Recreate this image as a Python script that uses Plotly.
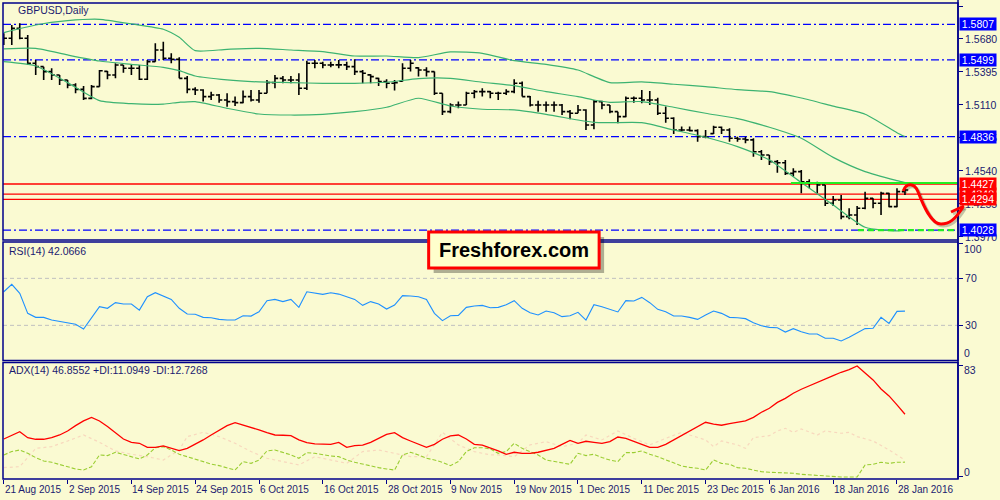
import plotly.graph_objects as go

# ---------------- data ----------------
date_labels = ["21 Aug 2015", "2 Sep 2015", "14 Sep 2015", "24 Sep 2015", "6 Oct 2015",
               "16 Oct 2015", "28 Oct 2015", "9 Nov 2015", "19 Nov 2015", "1 Dec 2015",
               "11 Dec 2015", "23 Dec 2015", "6 Jan 2016", "18 Jan 2016", "28 Jan 2016"]
label_step = 8  # one date label every 8 daily bars

opens = [1.5660, 1.5686, 1.5772, 1.5686, 1.5470, 1.5441, 1.5398, 1.5369, 1.5326, 1.5283,
         1.5245, 1.5167, 1.5268, 1.5400, 1.5369, 1.5455, 1.5427, 1.5427, 1.5332, 1.5484,
         1.5585, 1.5513, 1.5504, 1.5340, 1.5245, 1.5239, 1.5182, 1.5196, 1.5153, 1.5139,
         1.5130, 1.5182, 1.5153, 1.5211, 1.5303, 1.5340, 1.5326, 1.5326, 1.5254, 1.5470,
         1.5470, 1.5455, 1.5456, 1.5456, 1.5441, 1.5398, 1.5370, 1.5340, 1.5312, 1.5297,
         1.5315, 1.5427, 1.5430, 1.5412, 1.5398, 1.5211, 1.5052, 1.5110, 1.5110, 1.5211,
         1.5225, 1.5225, 1.5211, 1.5211, 1.5225, 1.5297, 1.5182, 1.5110, 1.5110, 1.5110,
         1.5110, 1.5052, 1.5038, 1.5067, 1.4937, 1.5139, 1.5110, 1.5052, 1.5009, 1.5168,
         1.5168, 1.5153, 1.5153, 1.5038, 1.4995, 1.4894, 1.4894, 1.4888, 1.4836, 1.4862,
         1.4917, 1.4894, 1.4822, 1.4816, 1.4808, 1.4706, 1.4678, 1.4620, 1.4611, 1.4519,
         1.4534, 1.4447, 1.4433, 1.4418, 1.4260, 1.4289, 1.4145, 1.4159, 1.4217, 1.4303,
         1.4260, 1.4346, 1.4231, 1.4361]
highs = [1.5729, 1.5801, 1.5815, 1.5715, 1.5499, 1.5441, 1.5427, 1.5369, 1.5326, 1.5297,
         1.5274, 1.5283, 1.5412, 1.5404, 1.5470, 1.5455, 1.5464, 1.5455, 1.5499, 1.5643,
         1.5657, 1.5556, 1.5522, 1.5360, 1.5262, 1.5245, 1.5225, 1.5205, 1.5211, 1.5182,
         1.5234, 1.5239, 1.5239, 1.5326, 1.5369, 1.5360, 1.5360, 1.5383, 1.5493, 1.5499,
         1.5484, 1.5484, 1.5499, 1.5484, 1.5505, 1.5412, 1.5375, 1.5346, 1.5332, 1.5326,
         1.5470, 1.5499, 1.5435, 1.5435, 1.5398, 1.5211, 1.5124, 1.5139, 1.5225, 1.5240,
         1.5254, 1.5231, 1.5225, 1.5245, 1.5332, 1.5312, 1.5188, 1.5147, 1.5139, 1.5139,
         1.5119, 1.5067, 1.5110, 1.5073, 1.5153, 1.5147, 1.5110, 1.5052, 1.5182, 1.5182,
         1.5240, 1.5231, 1.5173, 1.5096, 1.5003, 1.4923, 1.4923, 1.4900, 1.4894, 1.4931,
         1.4923, 1.4908, 1.4836, 1.4836, 1.4822, 1.4721, 1.4678, 1.4634, 1.4634, 1.4562,
         1.4548, 1.4467, 1.4447, 1.4418, 1.4323, 1.4332, 1.4217, 1.4237, 1.4361, 1.4303,
         1.4361, 1.4352, 1.4390, 1.4390]
lows = [1.5628, 1.5628, 1.5677, 1.5455, 1.5369, 1.5326, 1.5326, 1.5283, 1.5254, 1.5211,
        1.5153, 1.5159, 1.5268, 1.5332, 1.5340, 1.5389, 1.5369, 1.5326, 1.5326, 1.5484,
        1.5499, 1.5470, 1.5340, 1.5211, 1.5196, 1.5139, 1.5153, 1.5130, 1.5095, 1.5101,
        1.5124, 1.5139, 1.5130, 1.5211, 1.5254, 1.5297, 1.5297, 1.5196, 1.5239, 1.5427,
        1.5427, 1.5435, 1.5427, 1.5412, 1.5369, 1.5297, 1.5297, 1.5274, 1.5254, 1.5234,
        1.5312, 1.5398, 1.5355, 1.5355, 1.5196, 1.5024, 1.5038, 1.5081, 1.5110, 1.5168,
        1.5182, 1.5168, 1.5153, 1.5196, 1.5211, 1.5182, 1.5096, 1.5052, 1.5052, 1.5052,
        1.5024, 1.4986, 1.5038, 1.4894, 1.4900, 1.5073, 1.5038, 1.4952, 1.5003, 1.5130,
        1.5124, 1.5110, 1.5024, 1.4957, 1.4859, 1.4880, 1.4880, 1.4793, 1.4822, 1.4859,
        1.4859, 1.4793, 1.4793, 1.4779, 1.4663, 1.4634, 1.4591, 1.4525, 1.4505, 1.4490,
        1.4346, 1.4390, 1.4346, 1.4237, 1.4237, 1.4122, 1.4122, 1.4073, 1.4208, 1.4217,
        1.4159, 1.4225, 1.4225, 1.4332]
closes = [1.5686, 1.5772, 1.5686, 1.5470, 1.5441, 1.5398, 1.5369, 1.5326, 1.5283, 1.5245,
          1.5167, 1.5268, 1.5406, 1.5369, 1.5455, 1.5427, 1.5427, 1.5332, 1.5484, 1.5585,
          1.5513, 1.5504, 1.5340, 1.5245, 1.5239, 1.5182, 1.5196, 1.5153, 1.5139, 1.5130,
          1.5182, 1.5153, 1.5211, 1.5303, 1.5340, 1.5326, 1.5326, 1.5254, 1.5470, 1.5470,
          1.5455, 1.5456, 1.5456, 1.5441, 1.5398, 1.5384, 1.5355, 1.5312, 1.5297, 1.5303,
          1.5427, 1.5470, 1.5412, 1.5398, 1.5211, 1.5052, 1.5110, 1.5110, 1.5211, 1.5225,
          1.5225, 1.5211, 1.5211, 1.5225, 1.5297, 1.5182, 1.5110, 1.5110, 1.5110, 1.5110,
          1.5052, 1.5038, 1.5067, 1.4937, 1.5139, 1.5110, 1.5052, 1.5009, 1.5168, 1.5168,
          1.5153, 1.5153, 1.5038, 1.4995, 1.4894, 1.4894, 1.4888, 1.4836, 1.4831, 1.4917,
          1.4894, 1.4822, 1.4816, 1.4808, 1.4706, 1.4678, 1.4620, 1.4611, 1.4519, 1.4534,
          1.4447, 1.4433, 1.4418, 1.4260, 1.4289, 1.4145, 1.4159, 1.4217, 1.4303, 1.4260,
          1.4346, 1.4231, 1.4361, 1.4375]

# Bollinger bands, read at a subset of bars
bb_idx = [0, 4, 8, 12, 16, 20, 22, 24, 28, 32, 36, 40, 44, 48, 52, 56, 60, 64, 68, 72,
          74, 76, 80, 84, 88, 92, 96, 100, 104, 108, 112, 113]
bb_upper = [1.5735, 1.5801, 1.5838, 1.5850, 1.5810, 1.5764, 1.5694, 1.5579, 1.5591, 1.5599,
            1.5585, 1.5571, 1.5533, 1.5533, 1.5519, 1.5568, 1.5556, 1.5493, 1.5461, 1.5412,
            1.5355, 1.5303, 1.5309, 1.5289, 1.5268, 1.5242, 1.5225, 1.5170, 1.5100, 1.5030,
            1.4870, 1.4836]
bb_middle = [1.5594, 1.5599, 1.5542, 1.5490, 1.5461, 1.5435, 1.5406, 1.5360, 1.5326, 1.5309,
             1.5303, 1.5297, 1.5297, 1.5306, 1.5338, 1.5340, 1.5306, 1.5277, 1.5225, 1.5182,
             1.5153, 1.5133, 1.5139, 1.5090, 1.5038, 1.4992, 1.4917, 1.4822, 1.4657, 1.4534,
             1.4456, 1.4439]
bb_lower = [1.5484, 1.5447, 1.5303, 1.5147, 1.5121, 1.5118, 1.5133, 1.5139, 1.5081, 1.5032,
            1.5023, 1.5029, 1.5052, 1.5090, 1.5168, 1.5101, 1.5073, 1.5067, 1.5029, 1.4980,
            1.4960, 1.4957, 1.4957, 1.4894, 1.4831, 1.4750, 1.4634, 1.4439, 1.4246, 1.4053,
            1.4021, 1.4030]

rsi_values = [58.6, 64.9, 57.2, 40.2, 36.8, 36.8, 34.5, 33.1, 31.7, 30.9,
              26.9, 36.0, 45.9, 44.5, 49.3, 48.2, 48.2, 43.0, 54.4, 57.8,
              55.0, 52.1, 44.5, 39.7, 39.4, 36.8, 36.5, 35.1, 34.5, 34.5,
              38.2, 37.9, 41.6, 51.0, 52.1, 50.2, 52.1, 45.3, 58.6, 57.2,
              56.4, 57.8, 56.6, 54.4, 52.1, 47.0, 50.2, 48.2, 43.9, 47.3,
              55.3, 55.0, 54.4, 52.1, 40.2, 34.0, 38.2, 38.5, 45.3, 46.5,
              47.0, 45.0, 45.3, 47.6, 51.0, 44.5, 40.8, 38.8, 42.2, 40.8,
              37.4, 38.2, 41.1, 34.5, 47.6, 45.9, 43.6, 41.4, 51.0, 50.7,
              53.8, 49.3, 43.6, 41.6, 37.9, 37.9, 36.8, 35.1, 38.8, 42.2,
              40.2, 36.8, 36.5, 35.7, 32.3, 29.7, 28.3, 28.0, 24.3, 27.2,
              24.6, 22.6, 22.6, 19.0, 19.0, 16.7, 19.8, 23.2, 27.2, 27.5,
              36.8, 31.7, 41.9, 42.1]

adx_values = [28.4, 31.4, 33.9, 29.4, 28.2, 28.2, 29.4, 31.4, 34.4, 38.4,
              41.9, 44.6, 41.9, 37.7, 32.7, 28.4, 25.9, 25.2, 22.2, 22.2,
              23.2, 21.4, 19.7, 21.4, 24.4, 27.7, 31.4, 34.9, 38.4, 40.6,
              38.9, 36.9, 35.2, 33.2, 31.4, 31.2, 30.9, 27.7, 25.7, 24.7,
              24.4, 24.4, 25.9, 22.2, 23.4, 23.9, 25.9, 28.9, 31.9, 33.2,
              29.4, 26.9, 24.4, 22.2, 24.4, 28.2, 30.7, 31.4, 28.4, 24.4,
              23.9, 21.9, 19.5, 17.0, 18.5, 17.7, 17.7, 18.5, 20.2, 21.4,
              24.4, 27.4, 25.2, 26.7, 25.9, 25.2, 26.4, 29.9, 28.9, 26.9,
              24.4, 22.2, 22.2, 24.4, 27.7, 30.7, 33.9, 37.7, 40.9, 39.6,
              38.7, 39.9, 40.9, 41.9, 44.6, 48.4, 51.4, 55.8, 58.8, 62.6,
              65.6, 68.3, 70.8, 73.1, 75.8, 78.3, 80.3, 83.0, 77.5, 72.6,
              65.8, 60.6, 53.9, 46.9]
plus_di = [16.5, 19.0, 20.2, 17.7, 14.5, 12.0, 11.0, 9.5, 7.7, 6.0,
           5.2, 7.7, 16.5, 16.0, 18.5, 17.0, 15.2, 13.5, 16.5, 21.9,
           22.7, 20.2, 17.0, 15.2, 13.2, 11.5, 9.7, 8.5, 7.0, 5.2,
           11.5, 10.2, 12.7, 19.5, 20.2, 18.5, 16.5, 14.0, 18.2, 17.7,
           16.5, 15.7, 15.2, 12.7, 11.0, 9.5, 8.2, 7.0, 6.0, 5.2,
           16.5, 18.5, 16.5, 14.0, 12.7, 11.0, 8.5, 11.5, 19.0, 21.9,
           21.9, 21.0, 17.7, 19.0, 25.2, 21.4, 19.0, 16.5, 12.7, 11.5,
           10.2, 9.5, 17.7, 16.0, 17.0, 14.5, 12.7, 11.5, 18.2, 18.2,
           19.5, 17.0, 15.2, 12.7, 10.2, 8.2, 7.2, 6.5, 5.2, 12.7,
           10.2, 9.5, 7.0, 6.5, 5.2, 4.0, 3.5, 3.3, 2.8, 2.8,
           2.0, 1.5, 1.0, 0.8, 0.3, 0.0, 0.0, 0.0, 9.0, 9.5,
           11.0, 10.2, 11.0, 11.1]
minus_di_idx = [0, 2, 4, 6, 8, 10, 12, 14, 16, 18, 20, 22, 23, 25, 27, 29, 31, 33, 35, 37,
                39, 41, 43, 45, 47, 49, 51, 53, 55, 57, 59, 61, 62, 64, 66, 68, 70, 72, 73, 75,
                77, 79, 81, 83, 85, 86, 88, 89, 90, 92, 93, 94, 96, 97, 98, 99, 100, 102, 103, 105,
                106, 107, 109, 111, 113]
minus_di = [7.0, 7.7, 21.4, 22.7, 26.9, 31.4, 25.9, 19.5, 17.0, 15.2,
            12.7, 20.2, 30.2, 33.4, 30.2, 25.2, 19.0, 14.0, 11.5, 9.0,
            15.2, 12.7, 10.2, 19.0, 20.2, 17.7, 15.2, 15.2, 33.4, 24.0,
            19.0, 16.5, 16.5, 15.2, 24.0, 26.4, 22.7, 25.2, 31.4, 27.7,
            34.4, 28.9, 24.0, 28.9, 33.4, 31.4, 27.7, 22.7, 26.9, 24.0,
            21.4, 29.4, 30.9, 34.4, 36.4, 33.4, 35.9, 31.4, 34.4, 32.7,
            33.4, 30.2, 26.9, 20.2, 12.7]

price_ticks = [1.5965, 1.5680, 1.5395, 1.5110, 1.4825, 1.4540, 1.4255, 1.3970]
blue_levels = [1.5807, 1.5499, 1.4836, 1.4028]
red_levels = [1.4340, 1.4427, 1.4294]
green_level = 1.4436
green_dash_level = 1.4028

# ---------------- styling ----------------
BG = "#FAFAD2"
FRAME = "#00008B"
TXT = "#1A1A70"
FONT = "Liberation Sans"
L, R, T, B = 3, 39, 3, 21
PW, PH = 1000 - L - R, 500 - T - B


def pp(x, y):
    # pixel -> paper coordinates
    return (x - L) / PW, (500 - B - y) / PH


def path(cmds):
    out = []
    for c, pts in cmds:
        s = " ".join("%.5f,%.5f" % pp(x, y) for x, y in pts)
        out.append(c + " " + s)
    return " ".join(out)


bar_index = list(range(len(closes)))
label_index = [i * label_step for i in range(len(date_labels))]

price_dom = [pp(0, 240)[1], 1.0]
rsi_dom = [pp(0, 360.5)[1], pp(0, 242)[1]]
adx_dom = [0.0, pp(0, 362.5)[1]]

fig = go.Figure()
fig.add_trace(go.Ohlc(x=bar_index, open=opens, high=highs, low=lows, close=closes,
                      increasing=dict(line=dict(color="black", width=1.6)),
                      decreasing=dict(line=dict(color="black", width=1.6)),
                      tickwidth=0.4, hoverinfo="skip", yaxis="y"))
for band in (bb_upper, bb_middle, bb_lower):
    fig.add_trace(go.Scatter(x=bb_idx, y=band, mode="lines", yaxis="y",
                             line=dict(color="#3CB371", width=1.2, shape="spline", smoothing=0.6),
                             hoverinfo="skip"))
fig.add_trace(go.Scatter(x=bar_index, y=rsi_values, mode="lines", yaxis="y2",
                         line=dict(color="#1E90FF", width=1.1), hoverinfo="skip"))
fig.add_trace(go.Scatter(x=minus_di_idx, y=minus_di, mode="lines", yaxis="y3",
                         line=dict(color="#F8D8BE", width=1.2, dash="dot"), hoverinfo="skip"))
fig.add_trace(go.Scatter(x=bar_index, y=plus_di, mode="lines", yaxis="y3",
                         line=dict(color="#9ACD32", width=1.1, dash="4px,2px"), hoverinfo="skip"))
fig.add_trace(go.Scatter(x=bar_index, y=adx_values, mode="lines", yaxis="y3",
                         line=dict(color="#FF0000", width=1.3), hoverinfo="skip"))

tickfont = dict(family=FONT, size=10.5, color=TXT)
fig.update_layout(
    width=1000, height=500, margin=dict(l=L, r=R, t=T, b=B),
    paper_bgcolor=BG, plot_bgcolor=BG, showlegend=False,
    xaxis=dict(range=[-0.1, 119.65], showgrid=False, zeroline=False, anchor="y3",
               rangeslider=dict(visible=False), tickvals=label_index, showticklabels=False,
               ticks="outside", ticklen=4, tickcolor=FRAME, showline=False),
    yaxis=dict(domain=price_dom, range=[1.3943, 1.5991], side="right", anchor="x",
               tickvals=price_ticks, ticktext=["%.4f" % v for v in price_ticks],
               ticks="outside", ticklen=4, tickcolor=FRAME, tickfont=tickfont,
               showgrid=False, zeroline=False),
    yaxis2=dict(domain=rsi_dom, range=[0.08, 100.94], side="right", anchor="x",
                tickvals=[0, 30, 70, 100], ticktext=["", "30", "70", ""],
                ticks="outside", ticklen=4, tickcolor=FRAME, tickfont=tickfont,
                showgrid=False, zeroline=False),
    yaxis3=dict(domain=adx_dom, range=[-1.5, 85.6], side="right", anchor="x",
                tickvals=[0, 83], ticktext=["", ""],
                ticks="outside", ticklen=4, tickcolor=FRAME, tickfont=tickfont,
                showgrid=False, zeroline=False),
)

shapes = []
# level lines (under the bars)
for lvl in blue_levels:
    shapes.append(dict(type="line", xref="paper", yref="y", x0=0, x1=1, y0=lvl, y1=lvl,
                       line=dict(color="#0000FF", width=1.3, dash="8px,3px,2px,3px"), layer="below"))
for lvl in red_levels:
    shapes.append(dict(type="line", xref="paper", yref="y", x0=0, x1=1, y0=lvl, y1=lvl,
                       line=dict(color="#FF0000", width=1.3), layer="below"))
shapes.append(dict(type="line", xref="x", yref="y", x0=98.7, x1=119.65, y0=green_level, y1=green_level,
                   line=dict(color="#22EE22", width=2)))
shapes.append(dict(type="line", xref="x", yref="y", x0=107.1, x1=119.65, y0=green_dash_level,
                   y1=green_dash_level, line=dict(color="#22EE22", width=2.2, dash="6px,4px")))
for lvl in (30, 70):
    shapes.append(dict(type="line", xref="paper", yref="y2", x0=0, x1=1, y0=lvl, y1=lvl,
                       line=dict(color="#C0C0C0", width=1, dash="4px,3px"), layer="below"))
# panel frames
for dom in (price_dom, rsi_dom, adx_dom):
    shapes.append(dict(type="rect", xref="paper", yref="paper", x0=0, x1=1, y0=dom[0], y1=dom[1],
                       line=dict(color=FRAME, width=1.5)))
shapes.append(dict(type="line", xref="paper", yref="paper", x0=1, x1=1, y0=0, y1=1.01,
                   line=dict(color=FRAME, width=1.5)))
# title marker
shapes.append(dict(type="path", xref="paper", yref="paper",
                   path=path([("M", [(5, 8)]), ("L", [(12, 8), (8.5, 12)])]) + " Z",
                   fillcolor="black", line=dict(width=0)))
# hand-drawn forecast arrow
curve = [("M", [(906, 191)]), ("C", [(909, 183), (917, 182), (921, 192)]),
         ("C", [(926, 205), (934, 224), (944, 224)]),
         ("C", [(952, 224), (958, 220), (966, 207)])]
head = [("M", [(954, 212)]), ("L", [(967, 206), (965, 218)])]
for dx, col in ((2, "rgba(0,0,0,0.22)"), (0, "#FF0000")):
    for seg in (curve, head):
        moved = [(c, [(x + dx, y + dx) for x, y in pts]) for c, pts in seg]
        shapes.append(dict(type="path", xref="paper", yref="paper", path=path(moved),
                           line=dict(color=col, width=3)))
# watermark box
x0, y0 = pp(435, 237)
x1, y1 = pp(606, 273)
shapes.append(dict(type="rect", xref="paper", yref="paper", x0=x0, x1=x1, y0=y0, y1=y1,
                   fillcolor="rgba(0,0,0,0.3)", line=dict(width=0)))
x0, y0 = pp(430, 232)
x1, y1 = pp(601, 268)
shapes.append(dict(type="rect", xref="paper", yref="paper", x0=x0, x1=x1, y0=y0, y1=y1,
                   fillcolor="#FFFFCC", line=dict(color="#FF0000", width=3)))
fig.update_layout(shapes=shapes)

ann = []


def text_at(x, y, s, size=10.5, color=TXT, **kw):
    px_, py_ = pp(x, y)
    ann.append(dict(x=px_, y=py_, xref="paper", yref="paper", text=s, showarrow=False,
                    xanchor=kw.pop("xanchor", "left"), yanchor=kw.pop("yanchor", "middle"),
                    font=dict(family=kw.pop("family", FONT), size=size, color=color), **kw))


text_at(16, 10, "GBPUSD,Daily")
text_at(7, 251, "RSI(14) %.4f" % 42.0666)
text_at(7, 370, "ADX(14) 46.8552 +DI:11.0949 -DI:12.7268")
text_at(965, 249, "100")
text_at(965, 353, "0")
text_at(965, 370, "83")
text_at(965, 472, "0")
text_at(515.5, 250, "<b>Freshforex.com</b>", size=20, color="black", xanchor="center")

for i, lab in zip(label_index, date_labels):
    ann.append(dict(x=i, y=pp(0, 482)[1], xref="x", yref="paper", text=lab, showarrow=False,
                    xanchor="left", yanchor="top", xshift=-1,
                    font=dict(family=FONT, size=10, color=TXT)))

for lvl, col in [(v, "#0000FF") for v in blue_levels] + [(v, "#FF0000") for v in red_levels]:
    ann.append(dict(x=pp(962, 0)[0], y=lvl, xref="paper", yref="y", text="%.4f" % lvl,
                    showarrow=False, xanchor="left", yanchor="middle", bgcolor=col, borderpad=0,
                    width=36, align="center",
                    font=dict(family=FONT, size=10.5, color="white")))
fig.update_layout(annotations=ann)

fig.write_html("out.html", config={"displayModeBar": False},
               post_script="document.body.style.margin='0';")
